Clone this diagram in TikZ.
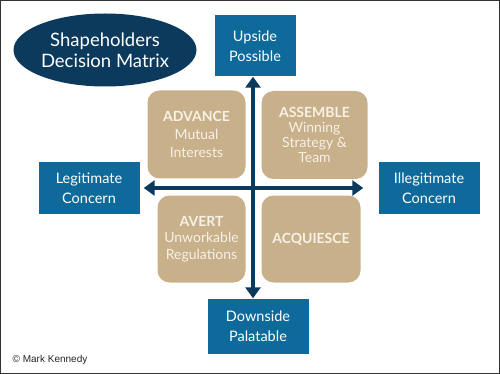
\documentclass[tikz,border=0pt]{standalone}
\usepackage{fontspec}
\setmainfont{Lato}
\newfontfamily\creditfont{Liberation Sans}
\usetikzlibrary{arrows.meta,shapes.geometric}
\definecolor{navy}{HTML}{0C3A5C}
\definecolor{boxblue}{HTML}{0D6A9B}
\definecolor{tan}{HTML}{C8B08A}
\definecolor{cream}{HTML}{F7F1E6}
\tikzset{
  bluebox/.style={fill=boxblue, text=white, inner sep=0pt, align=center,
    font=\fontsize{14.5}{20}\selectfont},
  quad/.style={fill=tan, text=cream, rounded corners=12pt, inner sep=0pt, align=center,
    font=\fontsize{14}{18}\selectfont},
  matarrow/.style={navy, line width=3.5pt, {Triangle[length=11pt,width=15pt]}-{Triangle[length=11pt,width=15pt]}}
}
\begin{document}
\begin{tikzpicture}[x=1pt, y=-1pt]
  \useasboundingbox (-0.5,-0.5) rectangle (499.5,373.5);
  % Frame
  \draw[line width=1.2pt, black!80] (0.3,0.3) rectangle (498.7,372.7);
  % Title
  \node[ellipse, fill=navy, text=white, minimum width=183pt, minimum height=73pt, inner sep=0pt,
    align=center, font=\fontsize{18.5}{21}\selectfont] (title) at (104.5,49.5) {Shapeholders\\Decision Matrix};
  % Axis ends
  \node[bluebox, minimum width=81pt, minimum height=61pt] (up) at (254.5,45.5) {Upside\\Possible};
  \node[bluebox, minimum width=101pt, minimum height=55pt] (down) at (257.5,325.5) {Downside\\Palatable};
  \node[bluebox, minimum width=101pt, minimum height=51pt] (legit) at (88.5,187.5) {Legitimate\\Concern};
  \node[bluebox, minimum width=101pt, minimum height=51pt] (illegit) at (428.5,187.5) {Illegitimate\\Concern};
  % Quadrants
  \node[quad, minimum width=98pt, minimum height=88pt] (advance) at (196,134)
    {\textbf{ADVANCE}\\Mutual\\Interests};
  \node[quad, minimum width=106pt, minimum height=88pt, font=\fontsize{14}{15}\selectfont] (assemble) at (314,134.5)
    {\textbf{ASSEMBLE}\\Winning\\Strategy \&\\Team};
  \node[quad, minimum width=88pt, minimum height=87pt, font=\fontsize{14}{16.5}\selectfont] (avert) at (201,238.5)
    {\textbf{AVERT}\\Unworkable\\Regulations};
  \node[quad, minimum width=99pt, minimum height=87pt] (acquiesce) at (310.5,238.5)
    {\textbf{ACQUIESCE}};
  % Axes
  \coordinate (mid) at (252.5,187.5);
  \draw[matarrow] (mid |- up.south) -- (mid |- down.north);
  \draw[matarrow, shorten <=4pt, shorten >=15pt] (legit.east |- mid) -- (illegit.west |- mid);
  % Credit
  \node[anchor=west, inner sep=0pt, text=black!85, font=\creditfont\fontsize{10}{11}\selectfont] (credit) at (12,359) {© Mark Kennedy};
\end{tikzpicture}
\end{document}
